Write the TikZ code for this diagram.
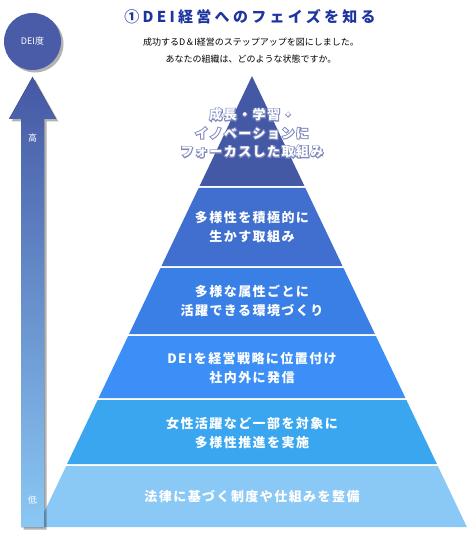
\documentclass[tikz,border=0pt]{standalone}
\usepackage{fontspec}
\setmainfont{Noto Sans CJK JP}
\usetikzlibrary{shadows}
\definecolor{deiblue}{HTML}{4A5CA8}
\definecolor{arrtop}{HTML}{4558A4}
\definecolor{arrbot}{HTML}{8AC8F4}
\definecolor{ttlblue}{HTML}{1E35A0}
\definecolor{halo}{HTML}{7F89BE}
\definecolor{layA}{HTML}{4459A6}
\definecolor{layB}{HTML}{406FCF}
\definecolor{layC}{HTML}{3A7FE6}
\definecolor{layD}{HTML}{3C8FF6}
\definecolor{layE}{HTML}{39A6EF}
\definecolor{layF}{HTML}{8AC9F5}
\tikzset{lbl/.style = {text=white, align=center,
    font=\bfseries\fontsize{13}{19}\selectfont\addfontfeature{LetterSpace=11}},
  toptxt/.style = {lbl, font=\bfseries\fontsize{13}{18.5}\selectfont\addfontfeature{LetterSpace=11}},
  halotxt/.style = {lbl, text=halo,
    font=\bfseries\fontsize{13}{18.5}\selectfont\addfontfeature{LetterSpace=11,FakeBold=14}},
  shd/.style = {drop shadow={shadow xshift=2.5pt, shadow yshift=-2.5pt, opacity=.3, fill=black}}}

\begin{document}
\begin{tikzpicture}[x=1pt, y=-1pt]
      \useasboundingbox (0,0) rectangle (471,537);
      % pyramid, apex (252,76)
      \foreach \t/\b/\c in {76/186/layA, 188/266/layB, 268/334/layC,
                            336/398/layD, 400/464/layE, 466/527/layF}
        \fill[\c] ({252-(\t-76)*0.4765},\t) -- ({252+(\t-76)*0.4765},\t)
          -- ({252+(\b-76)*0.4765},\b) -- ({252-(\b-76)*0.4765},\b) -- cycle;
      \node[halotxt] (lay1h) at (252,133) {成長・学習・\\イノベーションに\\フォーカスした取組み};
      \node[toptxt] (lay1) at (lay1h) {成長・学習・\\イノベーションに\\フォーカスした取組み};
      \node[lbl] (lay2) at (252,227) {多様性を積極的に\\生かす取組み};
      \node[lbl] (lay3) at (252,301) {多様な属性ごとに\\活躍できる環境づくり};
      \node[lbl] (lay4) at (252,368) {DEIを経営戦略に位置付け\\社内外に発信};
      \node[lbl] (lay5) at (252,433) {女性活躍など一部を対象に\\多様性推進を実施};
      \node[lbl] (lay6) at (252,497) {法律に基づく制度や仕組みを整備};
      % scale arrow
      \fill[shd, top color=arrtop, bottom color=arrbot]
        (32.5,77) -- (56,119) -- (44,119) -- (44,527) -- (21,527) -- (21,119)
        -- (9,119) -- cycle;
      \node[text=white, font=\fontsize{9}{9}\selectfont] (hi) at (32.5,138) {高};
      \node[text=white, font=\fontsize{9}{9}\selectfont] (lo) at (32.5,500) {低};
      \node[circle, fill=deiblue, minimum size=57pt, inner sep=0pt, shd,
        text=white, font=\fontsize{9}{9}\selectfont] (dei) at (32.5,41.5) {DEI度};
      % heading
      \node[text=ttlblue, font=\bfseries\fontsize{15}{15}\selectfont\addfontfeature{LetterSpace=22}]
        (ttl) at (250,17) {①DEI経営へのフェイズを知る};
      \node[align=center, font=\fontsize{9}{17}\selectfont] (sub) at (251,51)
        {成功するD＆I経営のステップアップを図にしました。\\あなたの組織は、どのような状態ですか。};
\end{tikzpicture}
\end{document}
